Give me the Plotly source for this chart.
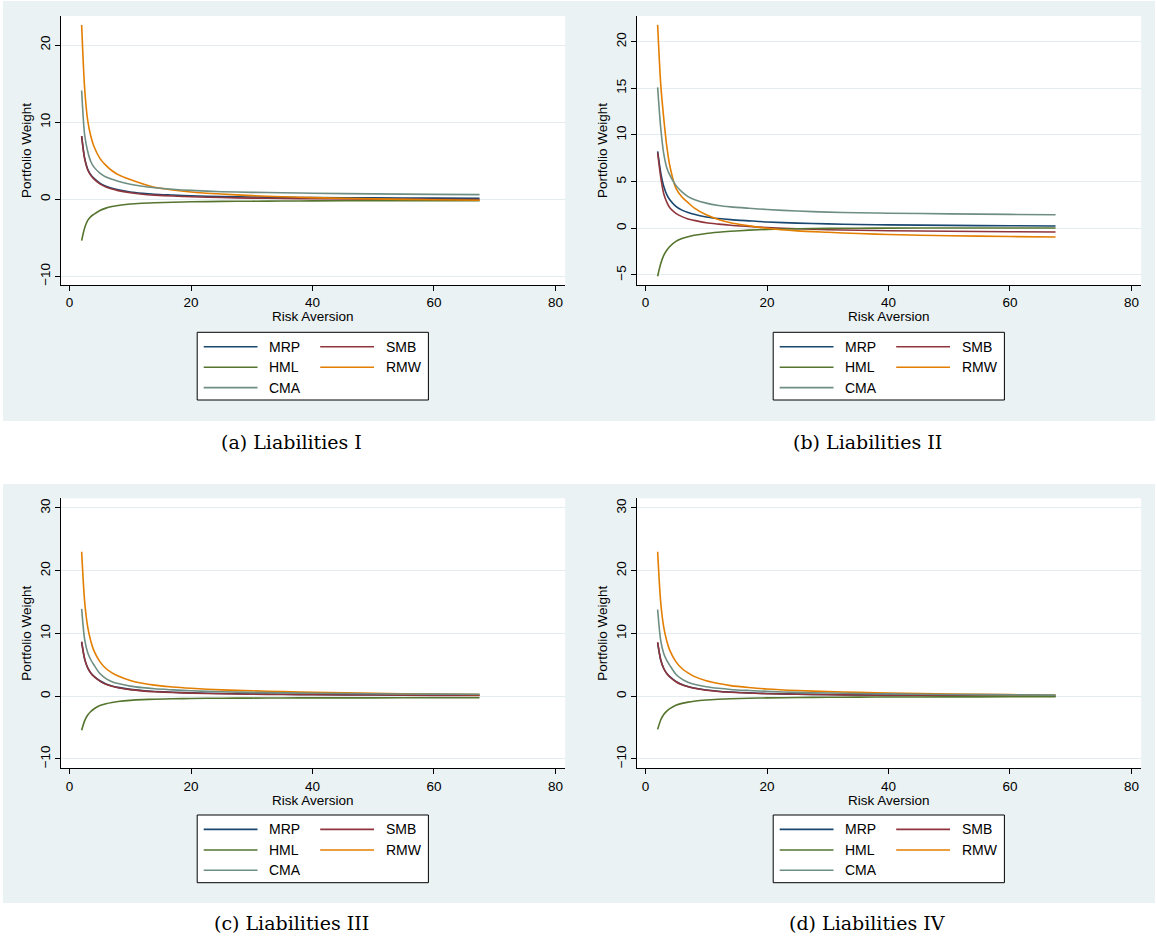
import plotly.graph_objects as go

W, H = 1157, 940

# ---------------- data ----------------
gamma = [2, 2.5, 3, 3.5, 4, 5, 6, 7, 8, 10, 12, 14, 17, 20, 25, 30, 35, 40, 50, 60, 67.5]
series_names = ["MRP", "SMB", "HML", "RMW", "CMA"]
series_colors = ["#1a476f", "#90353b", "#55752f", "#e37e00", "#6e8e84"]

# (a) Liabilities I
a_mrp = [8.2, 5.3, 3.9, 3.2, 2.75, 2.1, 1.7, 1.42, 1.22, 0.95, 0.78, 0.66, 0.55, 0.45, 0.36, 0.3, 0.26, 0.22, 0.18, 0.15, 0.13]
a_smb = [8.2, 5.2, 3.8, 3.1, 2.65, 2.0, 1.6, 1.32, 1.12, 0.85, 0.66, 0.54, 0.42, 0.32, 0.22, 0.15, 0.1, 0.06, 0.01, -0.02, -0.04]
a_hml = [-5.36, -3.7, -2.75, -2.25, -1.95, -1.45, -1.15, -0.95, -0.8, -0.62, -0.52, -0.45, -0.38, -0.33, -0.28, -0.25, -0.23, -0.21, -0.19, -0.18, -0.17]
a_rmw = [22.6, 14.3, 10.2, 8.2, 6.9, 5.3, 4.4, 3.7, 3.2, 2.55, 2.0, 1.55, 1.2, 0.95, 0.68, 0.47, 0.32, 0.21, 0.05, -0.07, -0.13]
a_cma = [14.1, 8.3, 6.2, 4.9, 4.2, 3.4, 2.9, 2.6, 2.35, 1.95, 1.68, 1.5, 1.3, 1.15, 0.98, 0.9, 0.84, 0.78, 0.7, 0.63, 0.6]

# (b) Liabilities II
b_mrp = [8.25, 6.0, 4.5, 3.6, 3.05, 2.35, 1.95, 1.7, 1.5, 1.22, 1.05, 0.93, 0.8, 0.68, 0.56, 0.47, 0.41, 0.37, 0.31, 0.27, 0.25]
b_smb = [8.1, 5.5, 3.7, 2.8, 2.2, 1.6, 1.25, 1.0, 0.85, 0.6, 0.45, 0.33, 0.2, 0.08, -0.05, -0.15, -0.21, -0.26, -0.32, -0.37, -0.39]
b_hml = [-5.14, -3.8, -2.9, -2.35, -1.95, -1.4, -1.1, -0.9, -0.75, -0.55, -0.42, -0.32, -0.2, -0.12, -0.05, -0.01, 0.01, 0.02, 0.03, 0.04, 0.04]
b_rmw = [21.8, 15.5, 11.8, 8.8, 6.7, 4.3, 3.35, 2.75, 2.2, 1.45, 0.95, 0.6, 0.28, 0.0, -0.28, -0.43, -0.56, -0.67, -0.8, -0.88, -0.93]
b_cma = [15.1, 10.8, 8.0, 6.5, 5.7, 4.6, 3.9, 3.4, 3.1, 2.7, 2.45, 2.3, 2.15, 2.02, 1.85, 1.73, 1.67, 1.62, 1.55, 1.49, 1.45]

# (c) Liabilities III
c_mrp = [8.6, 5.9, 4.5, 3.7, 3.2, 2.45, 1.95, 1.62, 1.4, 1.08, 0.88, 0.75, 0.62, 0.52, 0.42, 0.35, 0.3, 0.26, 0.21, 0.17, 0.15]
c_smb = [8.7, 5.9, 4.5, 3.7, 3.15, 2.4, 1.9, 1.58, 1.35, 1.04, 0.84, 0.71, 0.58, 0.48, 0.38, 0.31, 0.26, 0.22, 0.17, 0.13, 0.11]
c_hml = [-5.43, -3.9, -3.0, -2.45, -2.05, -1.5, -1.2, -1.0, -0.86, -0.67, -0.56, -0.49, -0.42, -0.37, -0.33, -0.31, -0.29, -0.28, -0.27, -0.26, -0.25]
c_rmw = [23.0, 15.0, 11.0, 8.8, 7.3, 5.5, 4.4, 3.7, 3.2, 2.5, 2.05, 1.75, 1.45, 1.25, 1.0, 0.85, 0.72, 0.6, 0.45, 0.33, 0.27]
c_cma = [13.9, 9.0, 6.9, 5.8, 5.0, 3.6, 2.8, 2.3, 2.0, 1.6, 1.35, 1.17, 1.0, 0.85, 0.7, 0.6, 0.52, 0.46, 0.38, 0.32, 0.29]

# (d) Liabilities IV
d_mrp = [8.5, 5.8, 4.4, 3.6, 3.1, 2.35, 1.85, 1.52, 1.3, 0.98, 0.78, 0.65, 0.52, 0.42, 0.32, 0.25, 0.2, 0.16, 0.11, 0.07, 0.05]
d_smb = [8.6, 5.8, 4.4, 3.6, 3.05, 2.3, 1.8, 1.48, 1.26, 0.95, 0.75, 0.62, 0.49, 0.39, 0.29, 0.22, 0.17, 0.13, 0.08, 0.05, 0.03]
d_hml = [-5.3, -3.8, -2.92, -2.38, -2.0, -1.45, -1.15, -0.95, -0.81, -0.62, -0.5, -0.42, -0.34, -0.28, -0.22, -0.18, -0.16, -0.14, -0.12, -0.1, -0.1]
d_rmw = [23.0, 15.0, 11.0, 8.8, 7.3, 5.5, 4.4, 3.7, 3.15, 2.45, 2.0, 1.68, 1.38, 1.15, 0.9, 0.72, 0.6, 0.5, 0.34, 0.24, 0.18]
d_cma = [13.8, 8.9, 6.8, 5.7, 4.9, 3.5, 2.7, 2.2, 1.9, 1.5, 1.25, 1.07, 0.9, 0.76, 0.6, 0.5, 0.42, 0.36, 0.27, 0.2, 0.16]

captions = ["(a) Liabilities I", "(b) Liabilities II", "(c) Liabilities III", "(d) Liabilities IV"]
x_ticks = [0, 20, 40, 60, 80]
y_ticks_a = [-10, 0, 10, 20]
y_ticks_b = [-5, 0, 5, 10, 15, 20]
y_ticks_cd = [-10, 0, 10, 20, 30]
x_title = "Risk Aversion"
y_title = "Portfolio Weight"

# ---------------- layout geometry (pixels) ----------------
BG = "#EAF2F3"
GRID = "#E3ECEE"
SANS = "Liberation Sans, Arial, Helvetica, sans-serif"
SERIF = "DejaVu Serif, serif"
FS = 13.5

panels = [
    dict(data=[a_mrp, a_smb, a_hml, a_rmw, a_cma], yr=[-11.12, 23.77], yt=y_ticks_a,
         px=(61, 565.2), py=(16, 285), bg=(3, 579, 1, 421), cap=(291, 442), leg=(197.2, 332.3)),
    dict(data=[b_mrp, b_smb, b_hml, b_rmw, b_cma], yr=[-6.075, 22.75], yt=y_ticks_b,
         px=(637, 1141.2), py=(16, 285), bg=(579, 1155, 1, 421), cap=(867, 442), leg=(773.2, 332.3)),
    dict(data=[c_mrp, c_smb, c_hml, c_rmw, c_cma], yr=[-11.5, 31.53], yt=y_ticks_cd,
         px=(61, 565.2), py=(498.3, 768.3), bg=(3, 579, 484, 903), cap=(291, 923), leg=(197.2, 815)),
    dict(data=[d_mrp, d_smb, d_hml, d_rmw, d_cma], yr=[-11.5, 31.53], yt=y_ticks_cd,
         px=(637, 1141.2), py=(498.3, 768.3), bg=(579, 1155, 484, 903), cap=(867, 923), leg=(773.2, 815)),
]


def fx(p):
    return p / W


def fy(p):
    return 1 - p / H


fig = go.Figure()
shapes = []
annotations = []
layout = dict(
    width=W, height=H, margin=dict(l=0, r=0, t=0, b=0),
    paper_bgcolor="white", plot_bgcolor="white", showlegend=False,
    font=dict(family=SANS, size=FS, color="black"),
)

for i, p in enumerate(panels):
    n = "" if i == 0 else str(i + 1)
    xa, ya = "x" + n, "y" + n
    # panel background
    x0, x1, y0, y1 = p["bg"]
    shapes.append(dict(type="rect", xref="paper", yref="paper", x0=fx(x0), x1=fx(x1),
                       y0=fy(y1), y1=fy(y0), fillcolor=BG, line=dict(width=0), layer="below"))
    # white plot region
    shapes.append(dict(type="rect", xref=xa + " domain", yref=ya + " domain", x0=0, x1=1, y0=0, y1=1,
                       fillcolor="white", line=dict(width=0), layer="below"))

    layout["xaxis" + n] = dict(
        domain=[fx(p["px"][0]), fx(p["px"][1])], anchor=ya, range=[-1.4, 81.6],
        tickvals=x_ticks, ticks="outside", ticklen=5, tickwidth=1, tickcolor="black",
        showline=True, linecolor="black", linewidth=1, showgrid=False, zeroline=False,
        tickfont=dict(family=SANS, size=FS, color="black"), fixedrange=True,
    )
    layout["yaxis" + n] = dict(
        domain=[fy(p["py"][1]), fy(p["py"][0])], anchor=xa, range=p["yr"],
        tickvals=p["yt"], ticks="outside", ticklen=5, tickwidth=1, tickcolor="black",
        showline=True, linecolor="black", linewidth=1, showgrid=True, gridcolor=GRID, gridwidth=1.2,
        zeroline=False, tickangle=-90, tickfont=dict(family=SANS, size=FS, color="black"),
        fixedrange=True,
    )

    for k, name in enumerate(series_names):
        fig.add_trace(go.Scatter(
            x=gamma, y=p["data"][k], mode="lines", name=name, xaxis=xa, yaxis=ya,
            line=dict(color=series_colors[k], width=1.6, shape="spline", smoothing=0.8),
            showlegend=False,
        ))

    # axis titles
    cx = (p["px"][0] + p["px"][1]) / 2
    cy = (p["py"][0] + p["py"][1]) / 2
    annotations.append(dict(text=x_title, xref="paper", yref="paper", x=fx(cx), y=fy(p["py"][1] + 32),
                            xanchor="center", yanchor="middle", showarrow=False,
                            font=dict(family=SANS, size=FS, color="black")))
    annotations.append(dict(text=y_title, xref="paper", yref="paper", x=fx(p["px"][0] - 34.5), y=fy(cy),
                            xanchor="center", yanchor="middle", showarrow=False, textangle=-90,
                            font=dict(family=SANS, size=FS, color="black")))
    # caption
    annotations.append(dict(text=captions[i], xref="paper", yref="paper", x=fx(p["cap"][0]), y=fy(p["cap"][1]),
                            xanchor="center", yanchor="middle", showarrow=False,
                            font=dict(family=SERIF, size=19, color="black")))

    # legend box (two columns, Stata style)
    bx, by = p["leg"]
    shapes.append(dict(type="rect", xref="paper", yref="paper", x0=fx(bx), x1=fx(bx + 231.2),
                       y0=fy(by + 67.7), y1=fy(by), fillcolor="white",
                       line=dict(color="black", width=1)))
    slots = [(0, 0), (1, 0), (0, 1), (1, 1), (0, 2)]
    row_off = [14.4, 35.0, 55.3]
    for k, name in enumerate(series_names):
        col, row = slots[k]
        lx0 = bx + (6.5 if col == 0 else 123.0)
        lx1 = lx0 + 53.8
        tx = bx + (69.5 if col == 0 else 186.5)
        ry = by + row_off[row]
        shapes.append(dict(type="line", xref="paper", yref="paper", x0=fx(lx0), x1=fx(lx1),
                           y0=fy(ry), y1=fy(ry), line=dict(color=series_colors[k], width=1.6)))
        annotations.append(dict(text=name, xref="paper", yref="paper", x=fx(tx), y=fy(ry),
                                xanchor="left", yanchor="middle", showarrow=False,
                                font=dict(family=SANS, size=14, color="black")))

layout["shapes"] = shapes
layout["annotations"] = annotations
fig.update_layout(**layout)
fig.write_html("out.html")
